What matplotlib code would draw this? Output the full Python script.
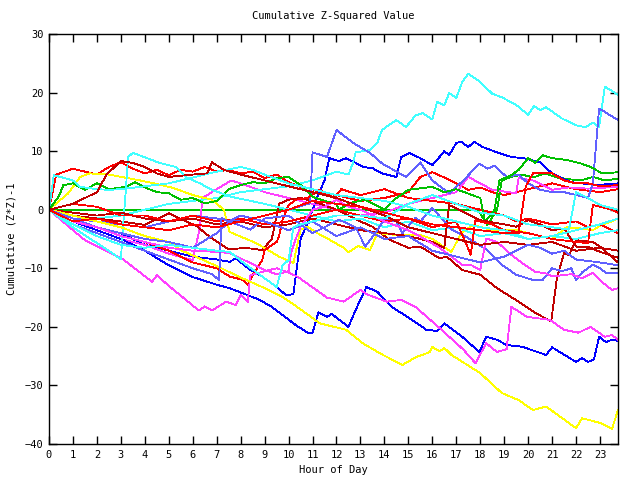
import matplotlib
matplotlib.use("Agg")
import matplotlib.pyplot as plt

# (hour, cumulative value) points, one list per series
cyan_top = [(0, 0), (1, -1), (2, -1.5), (3, -1), (4, 0), (5, 1), (6, 1.5), (7, 2), (8, 3), (9, 3.5),
            (10, 4), (11, 5), (12, 6.5), (12.5, 6), (12.7, 8.1), (12.8, 9.8), (13.4, 10.2), (13.7, 11.4),
            (13.9, 13.6), (14.2, 14.5), (14.5, 15.3), (14.9, 14.1), (15.3, 16.1), (15.6, 16.5), (16, 15.4),
            (16.2, 18.4), (16.5, 17.8), (16.7, 19.9), (17, 19.1), (17.25, 21.8), (17.5, 23.2), (18, 21.8),
            (18.5, 19.8), (18.9, 19.2), (19.5, 17.9), (20, 16.2), (20.25, 17.7), (20.5, 17.0), (20.75, 17.5),
            (21.4, 15.6), (22, 14.4), (22.4, 14.1), (22.7, 14.9), (22.96, 14.1), (23.2, 21.0), (23.45, 20.4),
            (23.75, 19.6)]
lblue_jump = [(0, 0), (1, -1.5), (2, -2), (3, -2.5), (4, -3), (5, -2), (6, -1), (7, -1.5), (8, -2),
              (9, -1), (10, 0), (10.9, 1.1), (11, 9.8), (11.6, 9.0), (12, 13.6), (12.7, 11.4), (13.4, 9.7),
              (13.9, 7.9), (14.9, 5.6), (15.5, 8.1), (16, 5.0), (16.7, 2.8), (17.3, 5), (17.96, 7.9),
              (18.3, 7), (18.6, 7.5), (19.1, 5.6), (19.6, 6), (20, 4.5), (20.5, 3.4), (21, 3), (21.5, 3),
              (22, 2.5), (22.5, 2), (22.7, 4.5), (22.96, 17.3), (23.75, 15.3)]
blue_up = [(0, 0), (1, -1.5), (2, -3), (3, -4), (4, -6), (5, -7), (6, -8), (7, -8.5), (7.54, -8.9),
           (7.8, -8.3), (8.4, -10.3), (8.9, -11.4), (9.5, -13.2), (9.9, -14.6), (10.2, -14.4), (10.5, -5),
           (10.9, -1.2), (11.2, 2.2), (11.5, 5), (11.7, 8.8), (12.1, 8.3), (12.4, 8.8), (12.8, 8.0),
           (13.1, 7.3), (13.5, 7.1), (13.9, 6.2), (14.5, 5.6), (14.7, 9.0), (15.04, 9.7), (15.5, 8.8),
           (16, 7.6), (16.3, 9.0), (16.5, 10), (16.7, 9.3), (17, 11.4), (17.2, 11.6), (17.5, 10.7),
           (17.75, 11.6), (18.1, 10.7), (18.7, 9.8), (19.3, 9.0), (19.8, 8.8), (20.5, 8.1), (20.75, 7.1),
           (21, 6.2), (21.4, 5.4), (21.8, 4.7), (22.25, 4.5), (22.8, 4.2), (23.75, 4.5)]
magenta_low = [(0, 0), (1, -3.5), (1.5, -5.2), (3.1, -8.5), (4.3, -12.3), (4.5, -11.2), (5, -13),
               (6.25, -17.2), (6.5, -16.5), (6.8, -17.2), (7.4, -15.7), (7.8, -16.3), (8, -14.5),
               (8.3, -15.7), (8.4, -11.2), (9, -10.5), (9.5, -10), (10, -10.7), (10.4, -11.5),
               (11.6, -15), (12.3, -15.7), (13, -13.7), (13.3, -14.5), (14.1, -15.7), (14.7, -15.4),
               (15.3, -16.6), (16.25, -20), (17.3, -23.9), (17.8, -26.2), (18.25, -22.8), (18.7, -24.3),
               (19.1, -23.8), (19.3, -16.6), (19.96, -18.3), (20.9, -18.8), (21.5, -20.5), (22.1, -21),
               (22.6, -20), (23.2, -21.7), (23.5, -21.4), (23.75, -22.2)]
yellow_low = [(0, 0), (1, -1), (2, -2), (3, -3), (4, -4.5), (5, -5.5), (5.5, -6.9), (7.1, -9.8),
              (7.9, -11.4), (8.9, -13.2), (9.75, -14.9), (10.5, -17), (11.3, -19.4), (12.4, -20.5),
              (13.1, -22.8), (13.8, -24.5), (14.75, -26.5), (15.3, -25.2), (15.9, -24.3), (16, -23.4),
              (16.3, -24.2), (16.5, -23.6), (16.8, -24.8), (18, -27.9), (18.9, -31.3), (19.6, -32.5),
              (20.2, -34.2), (20.75, -33.6), (22, -37.3), (22.25, -35.6), (23, -36.4), (23.5, -37.4),
              (23.75, -34.2)]
blue_low = [(0, 0), (1, -2), (2, -3.5), (3, -5), (4, -7), (5, -9.5), (6, -11.5), (7, -12.8),
            (7.54, -13.4), (8.8, -15.4), (9.3, -16.6), (10.3, -19.7), (10.8, -21), (11, -21),
            (11.25, -17.5), (11.6, -18.3), (11.8, -17.8), (12.5, -20), (12.8, -17.1), (13.25, -13.2),
            (13.7, -14), (14.3, -16.6), (15.04, -18.5), (15.75, -20.5), (16.2, -20.7), (16.5, -19.4),
            (17.25, -21.7), (17.96, -24.3), (18.25, -21.7), (18.7, -22.2), (19.1, -23.1), (19.75, -23.4),
            (20.75, -24.8), (21, -23.5), (21.4, -24.5), (22, -26), (22.25, -25.3), (22.5, -26),
            (22.75, -25.5), (22.96, -21.7), (23.25, -22.6), (23.5, -22.2), (23.75, -22.4)]
darkred_drop = [(0, 0), (1, -1), (2, -1.5), (3, -2), (4, -2.6), (5, -0.6), (6.2, -2.9), (6.6, -4.3),
                (7.5, -6.8), (8.2, -6.5), (8.9, -6.9), (9.3, -5), (9.6, 1), (10, 1.7), (10.5, 2),
                (11, 1.5), (12, 0), (12.5, -1), (13, -2), (13.5, -2.9), (14.2, -5.1), (15, -6.5),
                (15.5, -6.3), (16.3, -8.3), (16.6, -8), (17.25, -10.3), (18, -11.1), (18.7, -13.4),
                (19.6, -15.7), (20.3, -17.6), (20.96, -19.1), (21.2, -11.7), (21.5, -7.4), (21.7, -7.8),
                (22, -5.2), (22.7, -5.5), (23, -6.3), (23.75, -9)]
darkred_jump = [(0, 0), (1, -0.5), (2, -1), (3, -0.5), (4, -1.5), (5, -2), (6, -1.5), (7, -2.5),
                (8, -2), (9, -3), (10, -2.5), (11, -1.5), (12, -2.5), (13, -3.5), (14, -4), (15, -4.5),
                (15.5, -5), (16, -5.5), (16.5, -6.5), (16.7, 0.8), (17, 0.2), (18, -1.8), (19, -2.5),
                (19.5, -2.9), (20, -1.8), (20.5, -2.5), (21, -3.5), (21.5, -3.2), (22, -6.3),
                (22.5, -6.3), (23, -7.2), (23.75, -8.2)]
darkred_top = [(0, 0), (1, 1), (2, 3), (2.4, 6), (3, 8.3), (3.5, 8), (4, 7.3), (4.5, 6.2), (5, 5.6),
               (6, 6), (6.6, 6.2), (6.8, 8.1), (7.3, 6.8), (8, 6), (9, 5), (10, 4), (11, 3), (12, 2),
               (13, 0.5), (14, -1), (15, -3), (16, -4), (17, -5), (18, -6), (19, -5.5), (20, -6),
               (21, -5.5), (22, -7), (23, -6.5), (23.75, -7)]
red_top = [(0, 0), (0.3, 6), (1, 7), (1.5, 6.5), (2, 6), (2.5, 7.3), (3, 8.1), (3.5, 7), (4, 6.2),
           (4.5, 6.8), (5, 5.9), (5.5, 6.8), (6, 6.5), (6.5, 7.3), (7, 6.5), (7.5, 6.8), (8, 6.2),
           (8.5, 6.5), (9, 5.4), (9.5, 6), (10, 4.7), (10.5, 3.9), (11, 3.5), (11.5, 2.8), (12, 2.5),
           (13, 1.5), (14, 2), (15, 3), (15.5, 5.6), (16, 6.4), (16.5, 5.5), (17, 4.5), (17.5, 3.4),
           (18, 3.8), (18.5, 3), (19, 2.5), (19.5, 3), (20, 3.5), (21, 4.5), (22, 3.5), (23, 3),
           (23.75, 3.5)]
green_flat = [(0, 0), (17.9, 0), (18.3, -2.6), (18.7, 0), (18.9, 5), (19.3, 5.6), (19.75, 6),
              (20.2, 5.5), (20.7, 6.2), (21.2, 5.5), (21.7, 5.2), (22.2, 5), (22.7, 5.6), (23.2, 5),
              (23.75, 5.3)]
green_2 = [(0, 0), (0.4, 2.2), (0.6, 4.2), (1, 4.5), (1.5, 3.4), (2, 4.5), (2.5, 3.5), (3.2, 3.9),
           (3.6, 4.7), (4, 3.8), (4.5, 3), (5, 2.8), (5.5, 1.7), (6, 2), (6.5, 1.1), (7, 1.5), (7.5, 3.5),
           (8, 4.2), (8.5, 4.7), (9, 4.5), (9.5, 5.4), (10, 5.6), (10.5, 4.2), (11, 2.2), (11.5, 1.5),
           (12, 1), (12.1, 0), (12.6, 1.2), (13.2, 1.7), (14, 0), (14.4, 1.7), (15, 3.4), (16, 3.9),
           (16.5, 3), (17, 3.5), (18, 2), (18.2, -2.1), (18.6, 0), (18.8, 5), (19.3, 5.9), (19.6, 6.8),
           (20, 8.8), (20.3, 8), (20.6, 9.3), (21, 8.8), (21.6, 8.5), (22.2, 7.9), (22.6, 7.3),
           (23.1, 6.2), (23.75, 6.4)]
yellow_up = [(0, 0), (0.8, 2.8), (1.3, 5.6), (1.7, 6.2), (2.5, 6), (3.8, 5), (4.4, 4.5), (5.2, 3.7),
             (6, 2.5), (6.8, 1.7), (7.3, 0), (7.54, -3.8), (8.65, -5.7), (9.6, -8), (10.2, -9.1),
             (10.5, -3.4), (10.8, -2.9), (11.2, -4), (11.7, -5.1), (12.3, -6.5), (12.5, -7.3),
             (12.9, -6.2), (13.4, -6.9), (13.7, -4), (14.5, -4.3), (15.5, -4.3), (16, -5), (16.8, -7.2),
             (17.2, -4), (17.7, -2.6), (18.5, -3.5), (19.5, -3.5), (20.5, -4.5), (21, -5), (21.6, -3),
             (22.2, -3.2), (22.7, -3.5), (23.1, -2.5), (23.5, -2), (23.75, -1.5)]
cyan_jump = [(0, 0), (1, -3), (2, -5.7), (2.5, -7), (3, -8.5), (3.1, -2.3), (3.2, 3), (3.3, 9),
             (3.5, 9.7), (4.1, 8.8), (4.6, 8), (5.3, 7.3), (5.7, 5.6), (6.3, 4.5), (6.8, 3.4),
             (7.6, 2.2), (8.2, 1.7), (9, 1), (10, 0), (11, -1), (12, -2), (13, -1.5), (14, -3),
             (15, -2), (16, -3.5), (17, -3), (18, -4.5), (19, -4), (20, -5), (21, -4.5), (22, -5),
             (23, -4), (23.75, -3.5)]
cyan_mid = [(0, 0), (0.2, 5.9), (1, 5), (1.3, 3.9), (2, 3.5), (2.5, 3.4), (3, 3.5), (4, 4), (5, 4.5),
            (6, 5.5), (7, 6.5), (8, 7.3), (8.5, 6.8), (9, 6), (10, 4.5), (11, 3.5), (12, 2.5), (13, 2),
            (14, 1.5), (15, 0.5), (16, -1), (17, -2), (18, -3), (19, -3.5), (20, -5), (21, -4.5),
            (22, -3.5), (23, -2.5), (23.75, -1.5)]
cyan_low = [(0, 0), (1, -2.5), (2, -4.5), (3, -6), (4, -6.5), (5, -6), (6, -6.5), (7, -7),
            (7.54, -7.2), (8.1, -9), (8.9, -11.4), (9.5, -13.2), (9.75, -9.5), (10, -8.6), (10.2, -3),
            (10.5, -2.5), (11, -2), (12, -1), (13, -1), (14, -1.5), (15, 1), (16, 2.5), (17, 1),
            (18, -0.5), (19, -1), (20, -2.5), (21, -3), (21.7, -3.4), (22, 3), (22.5, 2), (23, 0.8),
            (23.75, 0)]
magenta_mid = [(0, 0), (1, -2), (2, -3.5), (3, -5), (4, -6), (5, -7.5), (6, -8.6), (6.3, -3),
               (6.4, 2), (7, 3.5), (7.6, 5), (8, 4.5), (9, 3), (10, 2), (11, 1), (12, 0), (13, -1),
               (14, -0.5), (15, 1), (16, 2), (17, 3), (17.5, 5.6), (18, 4.5), (18.5, 3.4), (19.5, 2.8),
               (19.6, 5.4), (20.2, 5), (21, 3.4), (21.7, 3.8), (22.5, 3.6), (23.75, 3.9)]
magenta_2 = [(0, 0), (1, -2), (2, -3), (3, -4.5), (4, -5.5), (5, -6.5), (6, -7), (7, -7.2),
             (7.54, -7.4), (8.4, -9.1), (9, -10.3), (9.5, -11), (10, -10.5), (10.1, -7.4), (10.3, -5),
             (10.5, -2.9), (11, 0), (11.5, 0.5), (12, 1.7), (12.5, 0.5), (13, 0), (14, -2), (15, -3.5),
             (15.5, -4.6), (16.3, -6.5), (17.25, -9.4), (17.6, -9.4), (18, -10.3), (18.25, -4.9),
             (18.7, -5.5), (19.3, -7.7), (19.75, -9.1), (20.3, -10.6), (20.75, -10.9), (21, -11.4),
             (21.8, -11), (22.25, -11.7), (22.7, -10.8), (23.1, -12.4), (23.5, -13.7), (23.75, -13.4)]
lblue_low = [(0, 0), (1, -1.5), (2, -3), (3, -4), (4, -5), (5, -5.5), (6, -6.5), (7, -4),
             (7.54, -2), (8.4, -3.4), (9, -1.5), (10, -1), (10.5, -2.5), (11, -4), (11.5, -3),
             (12.1, -1.7), (12.8, -3), (13.2, -6.3), (13.7, -3.5), (14, -1.7), (14.5, -2), (14.75, -4),
             (15.3, -1.4), (15.5, -2), (16, 0.3), (16.8, -3.4), (17.4, -4.6), (18.25, -6.8),
             (18.9, -9.4), (19.5, -11.1), (20.2, -12), (20.6, -12), (21, -10), (21.4, -10.5),
             (21.8, -10), (22, -12), (22.25, -10.7), (22.7, -9.4), (23, -10), (23.25, -10.8),
             (23.75, -10.8)]
lblue_3 = [(0, 0), (1, -2.5), (2, -4), (3, -5.5), (4, -7), (5, -8.5), (6, -10), (6.8, -11),
           (7.1, -12), (7.2, -1.4), (7.5, -2), (8, -1), (9, -2), (10, -3.5), (11, -2), (12, -4.5),
           (13, -3), (14, -5), (15, -4.5), (16, -7), (17, -8), (18, -9), (19, -8), (19.5, -7),
           (20, -6), (20.5, -6.5), (21, -7.5), (21.5, -7), (22, -8.5), (23, -9), (23.75, -9.5)]
red_jump = [(0, 0), (1, -1.5), (2, -3), (3, -4.5), (4, -5.5), (5, -7), (6, -9), (7, -10),
            (7.54, -11.4), (8.1, -12), (8.3, -12.9), (8.5, -11.2), (8.9, -8.6), (9, -6.9), (9.5, -5.5),
            (9.6, -4.6), (9.75, -1.7), (10, 0.8), (10.3, 1.7), (10.8, 2), (11.3, 3.4), (11.9, 2),
            (12.2, 3.5), (13, 2.5), (14, 3.5), (15, 2), (16, 1.5), (17, 1), (18, 0), (19, -1),
            (19.5, -2), (20, -1.5), (21, -2.5), (22, -2), (22.5, -3), (23, -2.5), (23.75, -4)]
red_low = [(0, 0), (1, 1), (2, 0.5), (3, -1), (4, -1), (5, -2), (6, -1), (7, -2), (8, -1.5),
           (9, -2.5), (10, -2), (11, -1), (12, 0), (13, -1), (14, -2), (15, -1.5), (16, -3), (17, -2),
           (17.4, -5.7), (17.6, -7.7), (17.8, -1.8), (18.5, -2.5), (19, -3.5), (20, -4), (21, -5),
           (22, -5.5), (22.5, -5.7), (22.7, 0.8), (23, 0.5), (23.5, 0), (23.75, -0.5)]
red_3 = [(0, 0), (0.5, -1), (1, -2), (2, -1.5), (3, -2.5), (4, -3), (5, -3.5), (6, -2.5), (7, -3),
         (8, -2), (9, -1), (10, 0), (11, 1.5), (12, 1), (13, 0.5), (14, -0.5), (15, -1.5), (16, -2.5),
         (17, -3), (18, -3.5), (19, -4), (19.6, -4), (19.9, 4), (20.2, 6.2), (21, 6.2), (21.5, 5),
         (22, 4.5), (22.5, 4.5), (23, 4), (23.75, 4.2)]

series = [red_top, green_flat, blue_up, magenta_mid, cyan_top, darkred_drop, yellow_up, lblue_jump,
          red_jump, green_2, blue_low, magenta_low, cyan_jump, darkred_jump, yellow_low, lblue_low,
          red_low, cyan_mid, magenta_2, darkred_top, lblue_3, cyan_low, red_3]
colors = ['#ff0000', '#00c000', '#0000ff', '#ff40ff', '#40ffff', '#c00000', '#ffff00', '#6060ff',
          '#ff0000', '#00c000', '#0000ff', '#ff40ff', '#40ffff', '#c00000', '#ffff00', '#6060ff',
          '#ff0000', '#40ffff', '#ff40ff', '#c00000', '#6060ff', '#40ffff', '#ff0000']

plt.rcParams['font.family'] = 'DejaVu Sans Mono'
plt.rcParams['font.size'] = 7.5

fig = plt.figure(figsize=(6.4, 4.8), dpi=100)
ax = fig.add_axes([49 / 640, 36 / 480, 569 / 640, 410 / 480])

for pts, c in zip(series, colors):
    xs = [p[0] for p in pts]
    ys = [p[1] for p in pts]
    ax.plot(xs, ys, color=c, lw=0.6, antialiased=False)

ax.set_xlim(0, 23.75)
ax.set_ylim(-40, 30)
ax.set_xticks(range(24))
ax.set_yticks(range(-40, 31, 10))
ax.tick_params(direction='in', length=6, width=1, top=True, right=True, pad=4)
for s in ax.spines.values():
    s.set_linewidth(1)

ax.set_title('Cumulative Z-Squared Value', fontsize=7.5, pad=11)
ax.set_xlabel('Hour of Day', labelpad=4)
ax.set_ylabel('Cumulative (Z*Z)-1', labelpad=6)

plt.savefig('out.png', dpi=100)
